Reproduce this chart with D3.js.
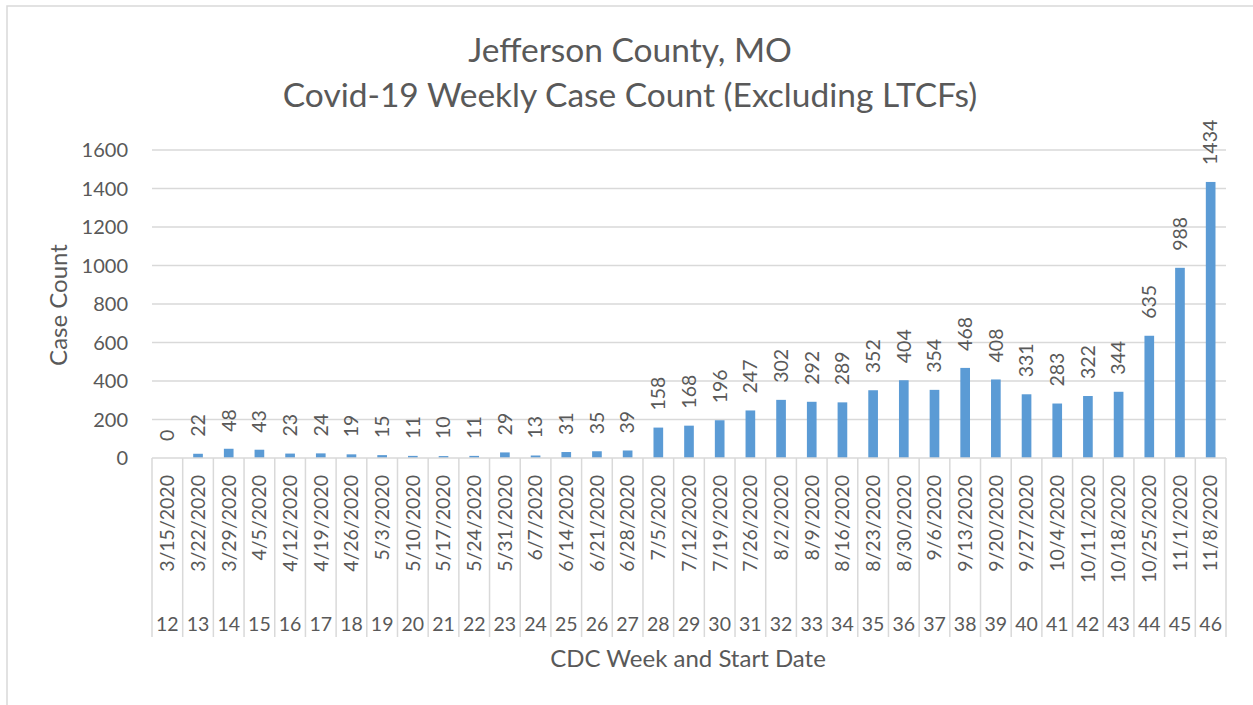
<!DOCTYPE html>
<html>
<head>
<meta charset="utf-8">
<script src="https://cdn.jsdelivr.net/npm/d3@7"></script>
<style>
  body { margin: 0; background: #fff; }
  text { font-family: Lato, "Open Sans", sans-serif; fill: #595959; }
</style>
</head>
<body>
<div id="chart"></div>
<script>
const weeks = ['12', '13', '14', '15', '16', '17', '18', '19', '20', '21', '22', '23', '24', '25', '26', '27', '28', '29',
  '30', '31', '32', '33', '34', '35', '36', '37', '38', '39', '40', '41', '42', '43', '44', '45', '46']
const startDates = ['3/15/2020', '3/22/2020', '3/29/2020', '4/5/2020', '4/12/2020', '4/19/2020', '4/26/2020', '5/3/2020',
  '5/10/2020', '5/17/2020', '5/24/2020', '5/31/2020', '6/7/2020', '6/14/2020', '6/21/2020', '6/28/2020', '7/5/2020',
  '7/12/2020', '7/19/2020', '7/26/2020', '8/2/2020', '8/9/2020', '8/16/2020', '8/23/2020', '8/30/2020', '9/6/2020',
  '9/13/2020', '9/20/2020', '9/27/2020', '10/4/2020', '10/11/2020', '10/18/2020', '10/25/2020', '11/1/2020', '11/8/2020']
const caseCounts = [0, 22, 48, 43, 23, 24, 19, 15, 11, 10, 11, 29, 13, 31, 35, 39, 158, 168, 196, 247, 302, 292, 289,
  352, 404, 354, 468, 408, 331, 283, 322, 344, 635, 988, 1434]
const yTicks = [0, 200, 400, 600, 800, 1000, 1200, 1400, 1600]

const width = 1253
const height = 705
const plot = { left: 152, right: 1226, top: 150, bottom: 458 }
const grid = '#d9d9d9'

const svg = d3.select('#chart')
  .append('svg')
  .attr('width', width)
  .attr('height', height)

// chart border
svg.append('rect')
  .attr('x', 7).attr('y', 6)
  .attr('width', width + 10).attr('height', height + 10)
  .attr('fill', 'none')
  .attr('stroke', grid)
  .attr('stroke-width', 1.5)

const xScale = d3.scaleBand().domain(weeks).range([plot.left, plot.right])
const yScale = d3.scaleLinear().domain([0, 1600]).range([plot.bottom, plot.top])

// gridlines
svg.append('g')
  .selectAll('line')
  .data(yTicks.slice(1))
  .join('line')
  .attr('x1', plot.left)
  .attr('x2', plot.right)
  .attr('y1', d => yScale(d))
  .attr('y2', d => yScale(d))
  .attr('stroke', grid)
  .attr('stroke-width', 1.5)

// y tick labels
svg.append('g')
  .selectAll('text')
  .data(yTicks)
  .join('text')
  .attr('x', 128)
  .attr('y', d => yScale(d))
  .attr('dy', '0.35em')
  .attr('text-anchor', 'end')
  .attr('font-size', 20)
  .text(d => d)

// bars
const barW = xScale.bandwidth() * 0.315
const rows = weeks.map((w, i) => ({ week: w, date: startDates[i], value: caseCounts[i] }))

svg.append('g')
  .selectAll('rect')
  .data(rows)
  .join('rect')
  .attr('x', d => xScale(d.week) + (xScale.bandwidth() - barW) / 2)
  .attr('y', d => yScale(d.value))
  .attr('width', barW)
  .attr('height', d => yScale(0) - yScale(d.value))
  .attr('fill', '#5b9bd5')

// value labels
svg.append('g')
  .selectAll('text')
  .data(rows)
  .join('text')
  .attr('transform', d => `translate(${xScale(d.week) + xScale.bandwidth() / 2},${yScale(d.value) - 17}) rotate(-90)`)
  .attr('dy', '0.35em')
  .attr('font-size', 19.5)
  .text(d => d.value)

// category axis: baseline and separators
svg.append('line')
  .attr('x1', plot.left).attr('x2', plot.right)
  .attr('y1', plot.bottom).attr('y2', plot.bottom)
  .attr('stroke', grid)
  .attr('stroke-width', 1.5)

svg.append('g')
  .selectAll('line')
  .data(weeks.concat(['end']))
  .join('line')
  .attr('x1', (d, i) => plot.left + i * xScale.step())
  .attr('x2', (d, i) => plot.left + i * xScale.step())
  .attr('y1', plot.bottom)
  .attr('y2', 637)
  .attr('stroke', grid)
  .attr('stroke-width', 1.5)

// start dates
svg.append('g')
  .selectAll('text')
  .data(rows)
  .join('text')
  .attr('transform', d => `translate(${xScale(d.week) + xScale.bandwidth() / 2},475) rotate(-90)`)
  .attr('dy', '0.35em')
  .attr('text-anchor', 'end')
  .attr('font-size', 19.5)
  .text(d => d.date)

// week numbers
svg.append('g')
  .selectAll('text')
  .data(rows)
  .join('text')
  .attr('x', d => xScale(d.week) + xScale.bandwidth() / 2)
  .attr('y', 631)
  .attr('text-anchor', 'middle')
  .attr('font-size', 19.5)
  .text(d => d.week)

// titles
svg.append('text')
  .attr('x', 630).attr('y', 62)
  .attr('text-anchor', 'middle')
  .attr('font-size', 33.5)
  .text('Jefferson County, MO')

svg.append('text')
  .attr('x', 630).attr('y', 107)
  .attr('text-anchor', 'middle')
  .attr('font-size', 33.5)
  .text('Covid-19 Weekly Case Count (Excluding LTCFs)')

svg.append('text')
  .attr('transform', 'translate(59,305) rotate(-90)')
  .attr('dy', '0.35em')
  .attr('text-anchor', 'middle')
  .attr('font-size', 24)
  .text('Case Count')

svg.append('text')
  .attr('x', 688).attr('y', 667)
  .attr('text-anchor', 'middle')
  .attr('font-size', 24)
  .text('CDC Week and Start Date')
</script>
</body>
</html>
